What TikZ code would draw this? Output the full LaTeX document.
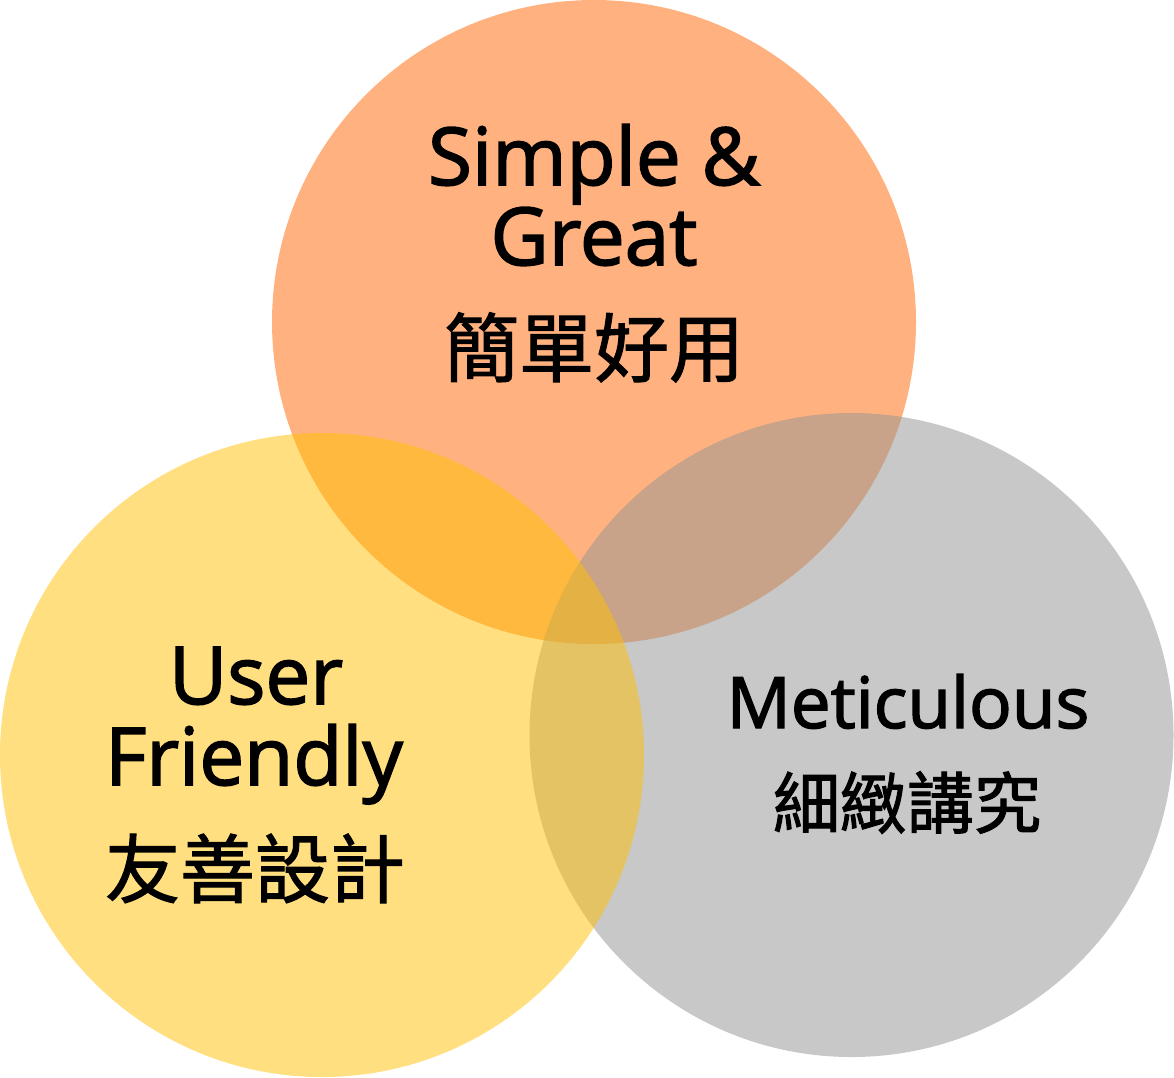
\documentclass[tikz,border=0pt]{standalone}
\usepackage{fontspec}
\setmainfont{Open Sans}[FakeBold=2]
\newfontfamily\cjk{Noto Sans CJK TC}[FakeBold=1.5]
\definecolor{cOrange}{HTML}{FF6600}
\definecolor{cYellow}{HTML}{FFC000}
\definecolor{cGray}{HTML}{939393}
\begin{document}
\begin{tikzpicture}[x=1pt,y=-1pt,
  venn/.style={circle,minimum size=644pt,inner sep=0pt,fill opacity=0.5,draw=none},
  lat/.style={anchor=base,inner sep=0pt,font=\fontsize{80}{96}\selectfont},
  han/.style={anchor=base,inner sep=0pt,font=\cjk\fontsize{75}{90}\selectfont},
  latsm/.style={lat,font=\fontsize{71}{85}\selectfont},
  hansm/.style={han,font=\cjk\fontsize{67}{80}\selectfont}]
\fill[white] (0,0) rectangle (1174,1077);
\useasboundingbox (0,0) rectangle (1174,1077);
\node[venn,fill=cOrange] (simple) at (594,322) {};
\node[venn,fill=cGray] (meticulous) at (851.5,735) {};
\node[venn,fill=cYellow] (user) at (322,755) {};
% top circle text
\node[lat] (t1) at (594,185) {Simple \&};
\node[lat] (t2) at (594,265) {Great};
\node[han] (t3) at (594,376) {簡單好用};
% left circle text
\node[lat] (u1) at (256,704) {User};
\node[lat] (u2) at (254,785) {Friendly};
\node[han] (u3) at (255,897) {友善設計};
% right circle text
\node[latsm] (m1) at (908,728) {Meticulous};
\node[hansm] (m2) at (907,828) {細緻講究};
\end{tikzpicture}
\end{document}
